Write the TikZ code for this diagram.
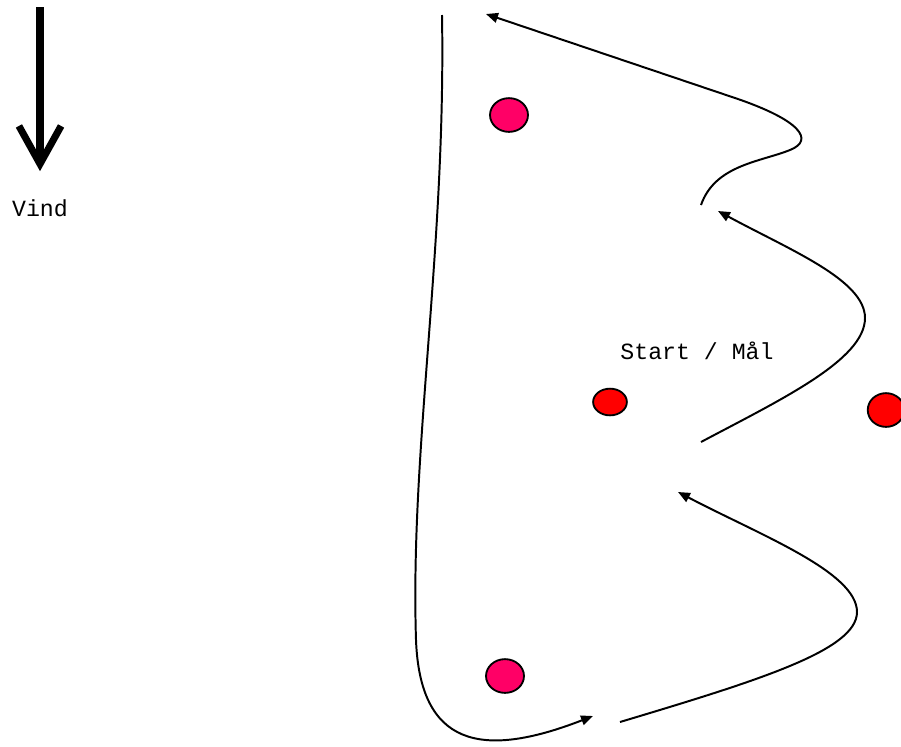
\documentclass[tikz,border=0pt]{standalone}
\usepackage{fontspec}
\setmonofont{Liberation Mono}
\usepackage{tikz}
\usetikzlibrary{arrows.meta,positioning,calc,shapes.geometric}
\definecolor{buoypink}{RGB}{255,0,102}
\definecolor{buoyred}{RGB}{255,0,0}

\begin{document}
\begin{tikzpicture}[x=0.025cm, y=-0.025cm, >={Triangle[length=8.5pt,width=7pt]},
  lbl/.style={font=\ttfamily\fontsize{16.5}{19}\selectfont, inner sep=0pt},
  buoy/.style={ellipse, draw, line width=1.3pt, inner sep=0pt},
  course/.style={line width=1.4pt}]
\useasboundingbox (0,0) rectangle (901,746);
\node[lbl] (vind) at (40,208) {Vind};
\coordinate (windtop) at (40,7);
\draw[line width=5pt, -{Straight Barb[length=27pt,width=30pt]}] (windtop) -- ($(vind.north)+(0,-28)$);
\node[lbl] (start) at (697,351) {Start / Mål};
\node[buoy, fill=buoypink, minimum width=27pt, minimum height=24pt] (b1) at (509,115) {};
\node[buoy, fill=buoypink, minimum width=27pt, minimum height=24pt] (b2) at (505,676) {};
\node[buoy, fill=buoyred, minimum width=24pt, minimum height=19pt] (s1) at (610,402) {};
\node[buoy, fill=buoyred, minimum width=26pt, minimum height=24pt] (s2) at (886,410) {};
\coordinate (a0) at (442,15);
\coordinate (a1) at (593,716);
\coordinate (c0) at (620,722);
\coordinate (c1) at (678,492);
\coordinate (d0) at (701,442);
\coordinate (d1) at (718,211);
\coordinate (e0) at (701,205);
\coordinate (e1) at (486,14);
\draw[course, ->] (a0) .. controls (446,250) and (410,450) .. (416,640)
  .. controls (420,745) and (480,760) .. (a1);
\draw[course, ->] (c0) .. controls (760,680) and (857,650) .. (857,612)
  .. controls (857,572) and (760,535) .. (c1);
\draw[course, ->] (d0) .. controls (780,400) and (865,360) .. (865,318)
  .. controls (865,280) and (790,250) .. (d1);
\draw[course, ->] (e0) .. controls (715,165) and (760,162) .. (790,150)
  .. controls (815,140) and (800,120) .. (735,98) -- (e1);
\end{tikzpicture}
\end{document}
